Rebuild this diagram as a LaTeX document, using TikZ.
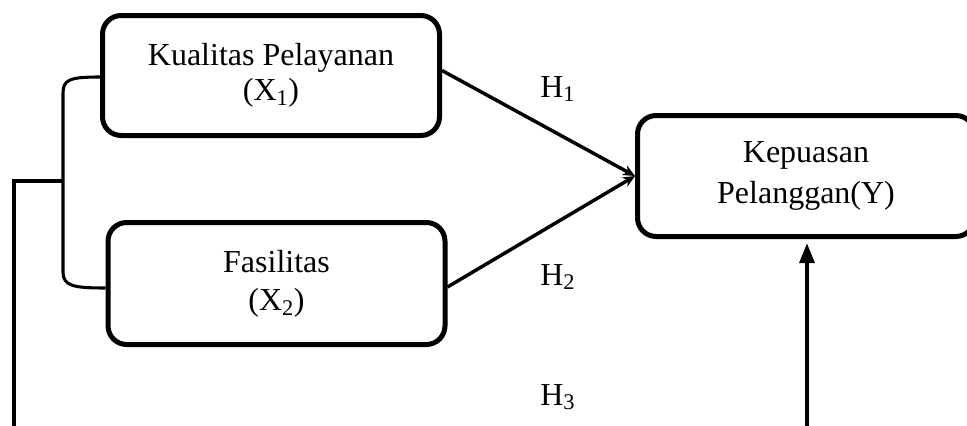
\documentclass[tikz,border=0pt]{standalone}
\usepackage{fontspec}
\setmainfont{Liberation Serif}
\usetikzlibrary{arrows.meta,calc}
\begin{document}
\begin{tikzpicture}[x=0.75pt,y=-0.75pt,
  box/.style={draw,line width=3.75pt,rounded corners=14pt,minimum width=252.75pt,minimum height=90pt,inner sep=0pt,align=center},
  conn/.style={line width=2.3pt},
  hconn/.style={line width=2.6pt,-{Stealth[length=9pt,width=8pt]}},
  hlab/.style={font=\fontsize{24}{28}\selectfont,inner sep=0pt,anchor=base west}]
\useasboundingbox (0,0) rectangle (967,425);
\node[box,font=\fontsize{24}{26.25}\selectfont] (b1) at (271,75.5) {Kualitas Pelayanan\\(X\textsubscript{1})};
\node[box,font=\fontsize{24}{28.5}\selectfont,minimum height=91.5pt] (b2) at (276.5,283.5) {Fasilitas\\(X\textsubscript{2})};
\node[box,font=\fontsize{24}{30.75}\selectfont,minimum height=90.75pt] (b3) at (806,176) {Kepuasan\\Pelanggan(Y)};
\node[hlab] (h1) at (540,97) {H\textsubscript{1}};
\node[hlab] (h2) at (540,285) {H\textsubscript{2}};
\node[hlab] (h3) at (540,405) {H\textsubscript{3}};
\draw[hconn] ($(b1.east)+(0,-5)$) -- (b3.west);
\draw[hconn] ($(b2.east)+(0,3.5)$) -- (b3.west);
\coordinate (bt) at (63,94);
\coordinate (bb) at (63,272);
\coordinate (jn) at (63,181);
\coordinate (jl) at (14,181);
\coordinate (jb) at (14,427);
\draw[conn] ($(b1.west)+(0,1.5)$) .. controls +(-32,0) and +(0,-14) .. (bt) -- (bb) .. controls +(0,14) and +(-32,0) .. ($(b2.west)+(0,4.5)$);
\draw[conn] (jn) -- (jl) -- (jb);
\coordinate (yb) at (807,427);
\draw[line width=3pt,-{Triangle[length=15pt,width=11pt]},shorten >=3pt] (yb) -- (yb |- b3.south);
\end{tikzpicture}
\end{document}
